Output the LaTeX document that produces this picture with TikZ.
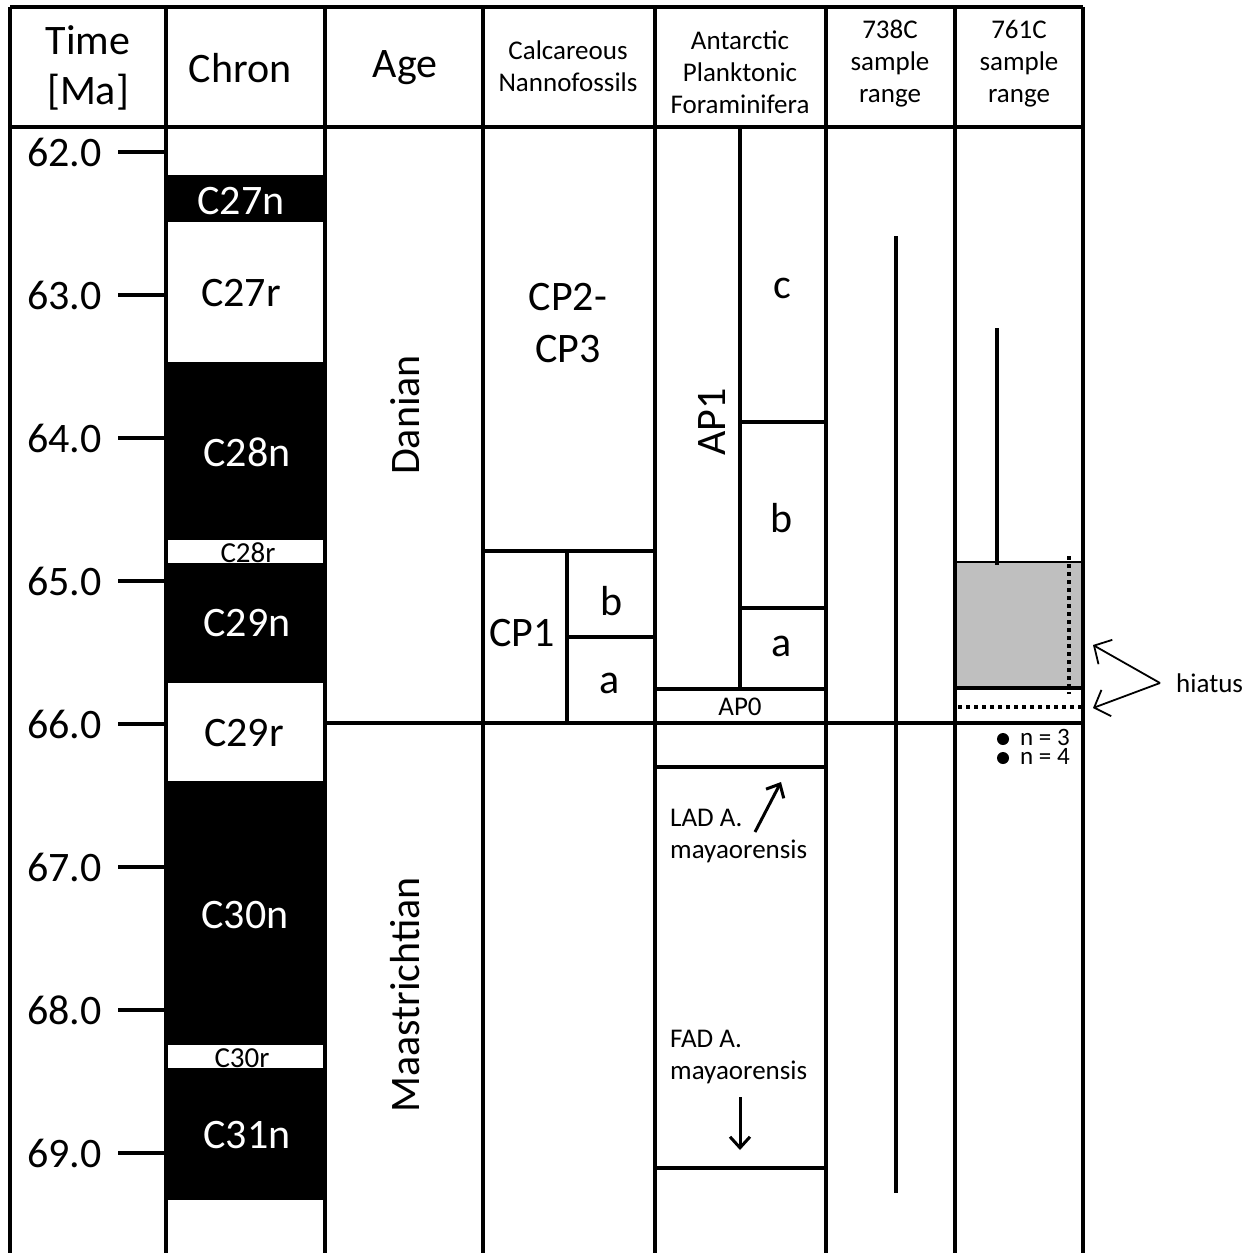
\documentclass[tikz,border=0pt]{standalone}
\usepackage{fontspec}
\setmainfont{Carlito}
\usetikzlibrary{arrows.meta}
\tikzset{
  big/.style={font=\fontsize{42}{46}\selectfont, inner sep=0pt},
  small/.style={font=\fontsize{27}{32}\selectfont, inner sep=0pt, align=center},
  chronsmall/.style={font=\fontsize{29}{30}\selectfont, inner sep=0pt},
  nlabel/.style={font=\fontsize{25}{19.5}\selectfont, inner sep=0pt, anchor=north west, align=left},
  frame/.style={line width=4pt},
  inner/.style={line width=3.5pt},
  tick/.style={line width=4pt},
  blackband/.style={fill=black},
  thinarrow/.style={line width=1.8pt, -{Straight Barb[length=13pt,width=28pt,line width=1.8pt]}},
  labarrow/.style={line width=3pt, -{Straight Barb[length=11pt,width=20pt,line width=3pt]}},
  dotline/.style={line width=3.5pt, dash pattern=on 4pt off 4pt},
}
\begin{document}
\begin{tikzpicture}[x=1pt,y=-1pt]
\useasboundingbox (0,0) rectangle (1256,1253);
\fill[white] (0,0) rectangle (1256,1253);

% chron bands
\fill[blackband] (166,175) rectangle (325,222);
\fill[blackband] (166,362) rectangle (325,540);
\fill[blackband] (166,563) rectangle (325,683);
\fill[blackband] (166,781) rectangle (325,1045);
\fill[blackband] (166,1068) rectangle (325,1200);

% 761C hiatus box
\fill[black!25] (955,562) rectangle (1083,688);
\draw[line width=2pt] (955,562) -- (1083,562);
\draw[inner] (955,688) -- (1083,688);

% column lines
\coordinate (c0t) at (10,7);    \coordinate (c0b) at (10,1253);
\coordinate (c1t) at (166,7);   \coordinate (c1b) at (166,1253);
\coordinate (c2t) at (325,7);   \coordinate (c2b) at (325,1253);
\coordinate (c3t) at (483,7);   \coordinate (c3b) at (483,1253);
\coordinate (c4t) at (655,7);   \coordinate (c4b) at (655,1253);
\coordinate (c5t) at (826,7);   \coordinate (c5b) at (826,1253);
\coordinate (c6t) at (955,7);   \coordinate (c6b) at (955,1253);
\coordinate (c7t) at (1083,7);  \coordinate (c7b) at (1083,1253);
\foreach \c in {0,...,7} {\draw[frame] (c\c t) -- (c\c b);}
\draw[frame] (c0t) -- (c7t);
\coordinate (hl) at (10,127); \coordinate (hr) at (1083,127);
\draw[frame] (hl) -- (hr);

% header texts
\node[big, align=center, font=\fontsize{42}{50}\selectfont] (hTime) at (88,68) {Time\\{[Ma]}};
\node[big] (hChron) at (240,68) {Chron};
\node[big] (hAge) at (405,68) {Age};
\node[small] (hNanno) at (568,66) {Calcareous\\Nannofossils};
\node[small] (hForam) at (740,72) {Antarctic\\Planktonic\\Foraminifera};
\node[small] (h738) at (890,64) {738C\\sample\\range};
\node[small] (h761) at (1019,64) {761C\\sample\\range};

% time ticks and labels
\foreach \t/\y in {62.0/152,63.0/295,64.0/438,65.0/581,66.0/724,67.0/867,68.0/1010,69.0/1153} {
  \coordinate (tk\y) at (118,\y);
  \coordinate (te\y) at (166,\y);
  \draw[tick] (tk\y) -- (te\y);
  \node[big, anchor=east] (tl\y) at (102,\y) {\t};
}

% chron labels
\node[big, text=white] (C27n) at (241,201) {C27n};
\node[big] (C27r) at (241,293) {C27r};
\node[big, text=white] (C28n) at (247,452) {C28n};
\node[chronsmall] (C28r) at (248,553) {C28r};
\node[big, text=white] (C29n) at (247,623) {C29n};
\node[big] (C29r) at (244,733) {C29r};
\node[big, text=white] (C30n) at (245,915) {C30n};
\node[chronsmall] (C30r) at (242,1058) {C30r};
\node[big, text=white] (C31n) at (247,1135) {C31n};

% K/Pg boundary line
\coordinate (kpgL) at (325,723); \coordinate (kpgR) at (1083,723);
\draw[inner] (kpgL) -- (kpgR);

% Age
\node[big, rotate=90] (Danian) at (405,415) {Danian};
\node[big, rotate=90] (Maas) at (405,995) {Maastrichtian};

% Nannofossils
\node[big, align=center, font=\fontsize{42}{52}\selectfont] (CP23) at (568,323) {CP2-\\CP3};
\coordinate (n1) at (483,551); \coordinate (n2) at (655,551);
\draw[inner] (n1) -- (n2);
\coordinate (n3) at (567,551); \coordinate (n4) at (567,723);
\draw[inner] (n3) -- (n4);
\coordinate (n5) at (567,637); \coordinate (n6) at (655,637);
\draw[inner] (n5) -- (n6);
\node[big] (CP1) at (522,633) {CP1};
\node[big] (CP1b) at (612,601) {b};
\node[big] (CP1a) at (610,683) {a};

% Foraminifera
\coordinate (f1) at (740,127); \coordinate (f2) at (740,689);
\draw[inner] (f1) -- (f2);
\coordinate (f3) at (740,422); \coordinate (f4) at (826,422);
\draw[inner] (f3) -- (f4);
\coordinate (f5) at (740,608); \coordinate (f6) at (826,608);
\draw[inner] (f5) -- (f6);
\coordinate (f7) at (655,689); \coordinate (f8) at (826,689);
\draw[inner] (f7) -- (f8);
\coordinate (f9) at (655,767); \coordinate (f10) at (826,767);
\draw[inner] (f9) -- (f10);
\coordinate (f11) at (655,1168); \coordinate (f12) at (826,1168);
\draw[inner] (f11) -- (f12);
\node[big, rotate=90] (AP1) at (712,422) {AP1};
\node[big] (APc) at (782,288) {c};
\node[big] (APb) at (782,518) {b};
\node[big] (APa) at (782,646) {a};
\node[small] (AP0) at (740,707) {AP0};
\node[small, align=left, anchor=west] (LAD) at (670,836) {LAD A.\\mayaorensis};
\node[small, align=left, anchor=west] (FAD) at (670,1057) {FAD A.\\mayaorensis};
\coordinate (ladS) at (755,832); \coordinate (ladE) at (781,782);
\draw[labarrow] (ladS) -- (ladE);
\coordinate (fadS) at (740,1097); \coordinate (fadE) at (740,1150);
\draw[labarrow] (fadS) -- (fadE);

% 738C range
\coordinate (r1) at (896,236); \coordinate (r2) at (896,1193);
\draw[inner] (r1) -- (r2);

% 761C range
\coordinate (s1) at (997,328); \coordinate (s2) at (997,565);
\draw[inner] (s1) -- (s2);
\coordinate (d1) at (1069,556); \coordinate (d2) at (1069,694);
\draw[dotline] (d1) -- (d2);
\coordinate (d3) at (958,707); \coordinate (d4) at (1082,707);
\draw[dotline] (d3) -- (d4);
\fill (1003,739) circle (6pt);
\fill (1003,758) circle (6pt);
\node[nlabel] (nlab) at (1020,729) {n = 3\\n = 4};

% hiatus
\node[small, anchor=west] (hiatus) at (1176,683) {hiatus};
\coordinate (hj) at (1160,683);
\coordinate (hu) at (1093,645);
\coordinate (hd) at (1093,708);
\draw[thinarrow] (hj) -- (hu);
\draw[thinarrow] (hj) -- (hd);
\end{tikzpicture}
\end{document}
